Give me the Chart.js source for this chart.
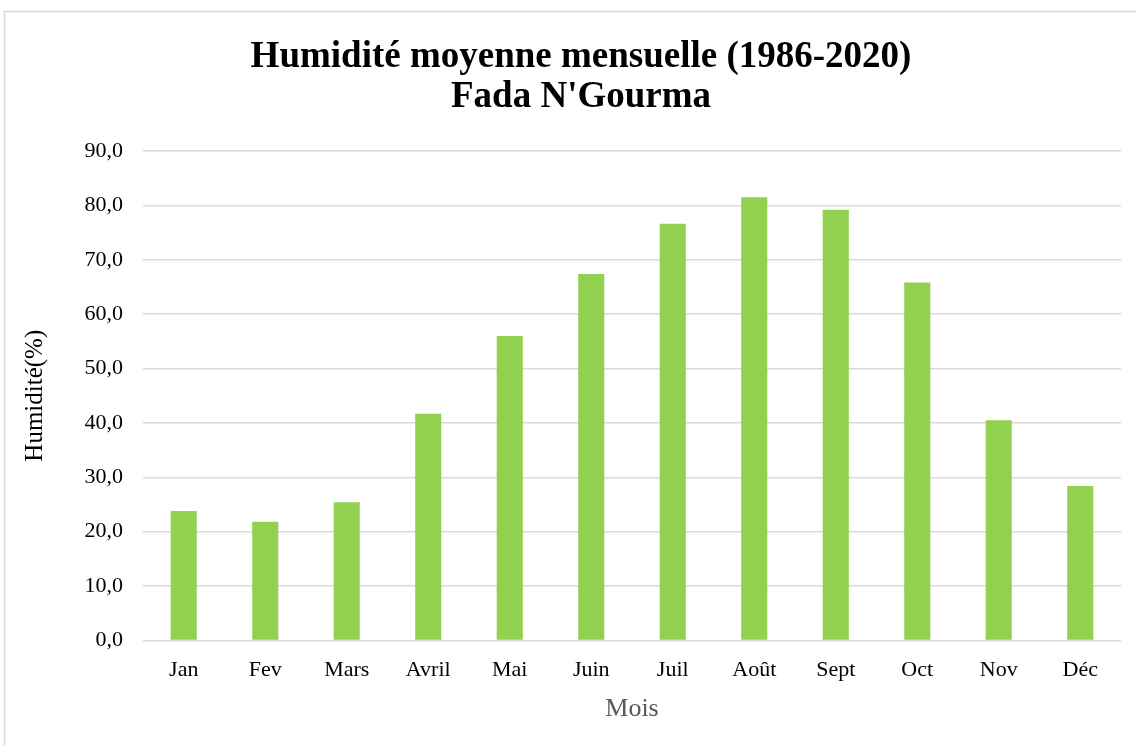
<!DOCTYPE html>
<html>
<head>
<meta charset="utf-8">
<script src="https://cdn.jsdelivr.net/npm/chart.js@4.4.0/dist/chart.umd.min.js"></script>
<style>
  html, body { margin: 0; padding: 0; background: #fff; }
  #wrap { width: 1136px; height: 746px; position: relative; }
</style>
</head>
<body>
<div id="wrap"><canvas id="chart-humidite"></canvas></div>
<script>
// Données
const mois = ['Jan', 'Fev', 'Mars', 'Avril', 'Mai', 'Juin', 'Juil', 'Août', 'Sept', 'Oct', 'Nov', 'Déc'];
const humidite = [23.8, 21.8, 25.4, 41.7, 56.0, 67.4, 76.6, 81.5, 79.2, 65.8, 40.5, 28.4];
const titreLignes = ['Humidité moyenne mensuelle (1986-2020)', "Fada N'Gourma"];

const serif = "'Liberation Serif', 'Times New Roman', serif";

// Cadre gris autour du graphique + titre (centré comme dans l'original)
const cadre = {
  id: 'cadre',
  beforeDraw(chart) {
    const ctx = chart.ctx;
    ctx.save();
    ctx.fillStyle = '#fff';
    ctx.fillRect(0, 0, chart.width, chart.height);
    ctx.strokeStyle = '#d9d9d9';
    ctx.lineWidth = 1.5;
    ctx.strokeRect(4.5, 11.5, chart.width + 10, chart.height + 10);
    ctx.restore();
  },
  afterDraw(chart) {
    const ctx = chart.ctx;
    ctx.save();
    ctx.fillStyle = '#000';
    ctx.font = 'bold 37px ' + serif;
    ctx.textAlign = 'center';
    ctx.textBaseline = 'middle';
    titreLignes.forEach((t, i) => ctx.fillText(t, 581, 57 + i * 40));
    ctx.restore();
  }
};

const ctx = document.getElementById('chart-humidite').getContext('2d');
new Chart(ctx, {
  type: 'bar',
  data: {
    labels: mois,
    datasets: [{
      label: 'Humidité',
      data: humidite,
      backgroundColor: '#92d050',
      borderWidth: 0,
      categoryPercentage: 1,
      barPercentage: 0.32
    }]
  },
  options: {
    responsive: true,
    maintainAspectRatio: false,
    animation: false,
    layout: { padding: { left: 20, right: 15, top: 151, bottom: 21 } },
    plugins: {
      legend: { display: false },
      tooltip: { enabled: false },
      title: { display: false }
    },
    scales: {
      x: {
        grid: { display: false, drawTicks: false },
        border: { display: false },
        ticks: { color: '#000', font: { family: serif, size: 22 }, padding: 17 },
        title: {
          display: true,
          text: 'Mois',
          color: '#595959',
          font: { family: serif, size: 26 },
          padding: { top: -7, bottom: 0 }
        }
      },
      y: {
        min: 0,
        max: 90,
        afterFit(scale) { scale.width = 123; },
        grid: { color: '#d9d9d9', lineWidth: 1.5, drawTicks: false },
        border: { display: false },
        ticks: {
          stepSize: 10,
          color: '#000',
          padding: 20,
          font: { family: serif, size: 22 },
          callback: v => v.toFixed(1).replace('.', ',')
        },
        title: {
          display: true,
          text: 'Humidité(%)',
          color: '#000',
          font: { family: serif, size: 25 },
          padding: { top: 0, bottom: 0 }
        }
      }
    }
  },
  plugins: [cadre]
});
</script>
</body>
</html>
